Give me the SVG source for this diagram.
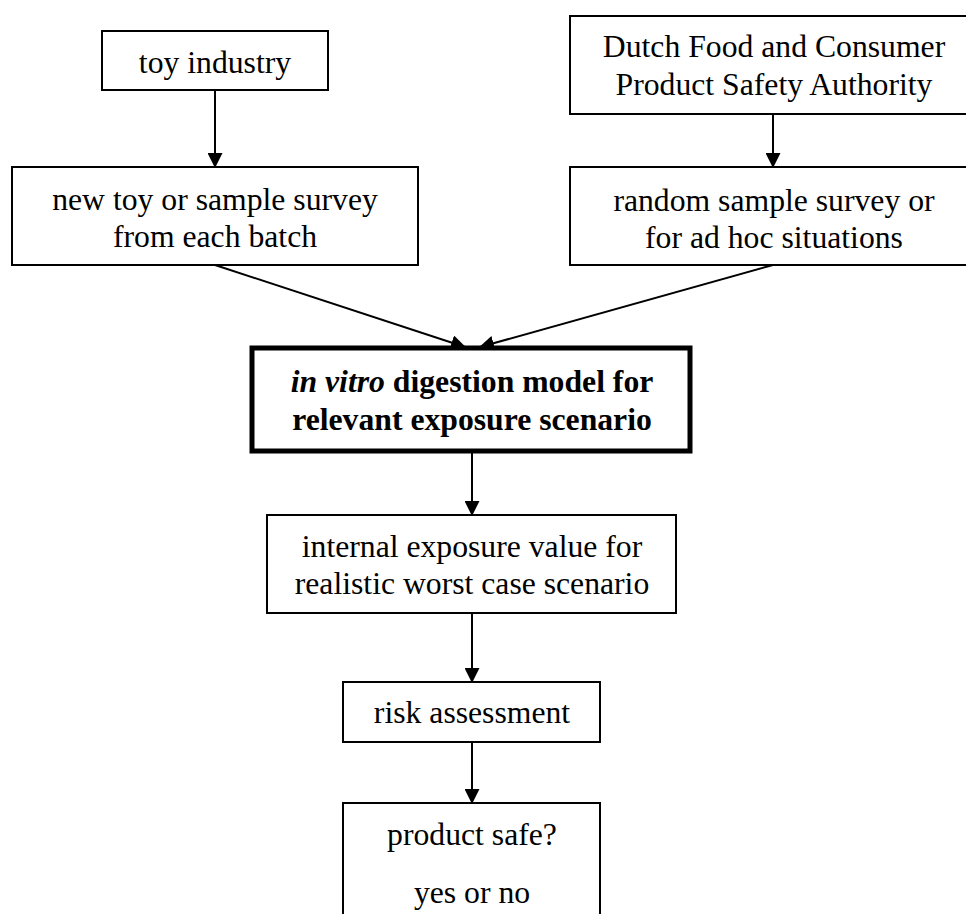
<svg xmlns="http://www.w3.org/2000/svg" width="966" height="914" viewBox="0 0 966 914">
<style>
  .box { fill: #fff; stroke: #000; stroke-width: 2; }
  .bold { fill: #fff; stroke: #000; stroke-width: 5; }
  text { font-family: "Liberation Serif", "Times New Roman", serif; font-size: 31.7px; fill: #000; text-anchor: middle; }
  .b { font-weight: bold; }
  .conn { stroke: #000; stroke-width: 2; fill: none; marker-end: url(#ah); }
</style>
<defs>
  <marker id="ah" markerWidth="15" markerHeight="15" viewBox="0 0 15 15" refX="14" refY="7.5" orient="auto" markerUnits="userSpaceOnUse">
    <path d="M0,0 L15,7.5 L0,15 Z" fill="#000"/>
  </marker>
</defs>
<rect width="966" height="914" fill="#fff"/>
<g id="toy-industry">
  <rect class="box" x="102" y="31" width="226" height="59"/>
  <text x="215" y="73">toy industry</text>
</g>
<g id="dutch-authority">
  <rect class="box" x="570" y="16" width="406" height="98"/>
  <text x="774" y="57">Dutch Food and Consumer</text>
  <text x="774" y="95">Product Safety Authority</text>
</g>
<g id="new-toy">
  <rect class="box" x="12" y="167" width="406" height="98"/>
  <text x="215" y="210">new toy or sample survey</text>
  <text x="215" y="247">from each batch</text>
</g>
<g id="random-sample">
  <rect class="box" x="570" y="167" width="406" height="98"/>
  <text x="774" y="211">random sample survey or</text>
  <text x="774" y="248">for ad hoc situations</text>
</g>
<g id="in-vitro">
  <rect class="bold" x="252" y="348" width="438" height="103"/>
  <text class="b" x="472" y="392"><tspan font-style="italic">in vitro</tspan> digestion model for</text>
  <text class="b" x="472" y="430">relevant exposure scenario</text>
</g>
<g id="internal-exposure">
  <rect class="box" x="267" y="515" width="409" height="98"/>
  <text x="472" y="557">internal exposure value for</text>
  <text x="472" y="594">realistic worst case scenario</text>
</g>
<g id="risk-assessment">
  <rect class="box" x="343" y="682" width="257" height="60"/>
  <text x="472" y="723">risk assessment</text>
</g>
<g id="product-safe">
  <rect class="box" x="343" y="803" width="257" height="130"/>
  <text x="472" y="845">product safe?</text>
  <text x="472" y="903">yes or no</text>
</g>
<g id="connectors">
  <line class="conn" x1="215" y1="90" x2="215" y2="167"/>
  <line class="conn" x1="773" y1="114" x2="773" y2="167"/>
  <line class="conn" x1="215" y1="265" x2="465" y2="347"/>
  <line class="conn" x1="773" y1="265" x2="480" y2="347"/>
  <line class="conn" x1="472" y1="453" x2="472" y2="515"/>
  <line class="conn" x1="472" y1="613" x2="472" y2="682"/>
  <line class="conn" x1="472" y1="742" x2="472" y2="803"/>
</g>
</svg>
